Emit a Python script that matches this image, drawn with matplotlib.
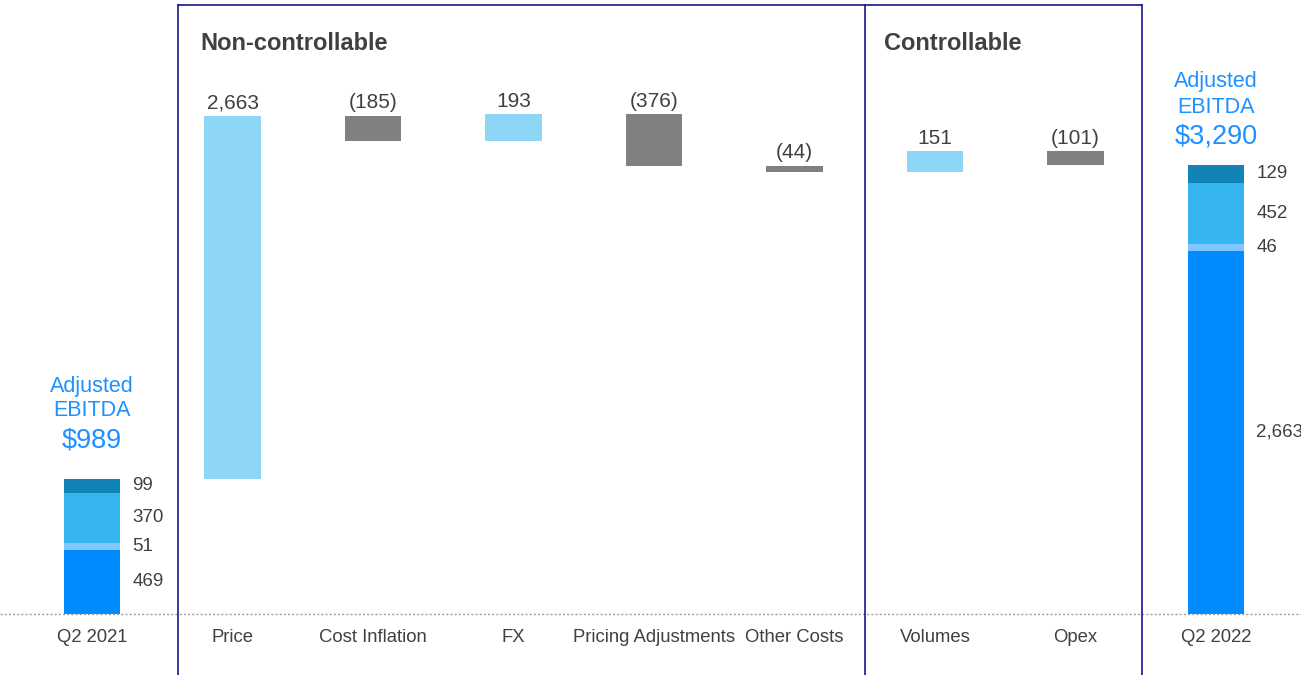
import matplotlib
matplotlib.use("Agg")
import matplotlib.pyplot as plt

plt.rcParams['font.family'] = ['Liberation Sans', 'DejaVu Sans']

# ---------------- data ----------------
categories = ["Q2 2021", "Price", "Cost Inflation", "FX", "Pricing Adjustments",
              "Other Costs", "Volumes", "Opex", "Q2 2022"]
deltas = [2663, -185, 193, -376, -44, 151, -101]
start_segments = [469, 51, 370, 99]
end_segments = [2663, 46, 452, 129]
start_total_label = "$989"
end_total_label = "$3,290"
header_label = ["Adjusted", "EBITDA"]
section_titles = ["Non-controllable", "Controllable"]

# ---------------- styles ----------------
seg_colors = ['#008CFF', '#80C6FF', '#35B6EE', '#1283B5']
pos_color = '#8DD6F5'
neg_color = '#808080'
txt_color = '#404040'
head_color = '#1E90FF'
box_color = '#16168C'
bar_w = 0.405
PT = 0.72  # points per pixel at 100 dpi

fig = plt.figure(figsize=(13.01, 6.75), dpi=100)
ax = fig.add_axes([0, 0, 1, 1])
px_x = 140.5
px_y = 0.1365
ax.set_xlim(-92 / px_x, (1301 - 92) / px_x)
ax.set_ylim(-61 / px_y, 614 / px_y)
ax.axis('off')


def fmt(v):
    return f"{v:,}" if v >= 0 else f"({abs(v):,})"


def stacked(x, segs):
    bottom = 0
    for val, col in zip(segs, seg_colors):
        ax.bar(x, val, bottom=bottom, width=bar_w, color=col, linewidth=0)
        ax.text(x + bar_w / 2 + 0.085, bottom + val / 2, f"{val:,}", ha='left',
                va='center', fontsize=13.5, color=txt_color)
        bottom += val
    return bottom


def header(x, top, total_label, offs):
    for s, o, fs in zip(header_label + [total_label], offs, [15.5, 15.5, 19.5]):
        ax.annotate(s, (x, top), xytext=(0, o * PT), textcoords='offset points',
                    ha='center', va='center', fontsize=fs, color=head_color)


total_start = stacked(0, start_segments)
header(0, total_start, start_total_label, [93, 69, 39])

level = total_start
for i, d in enumerate(deltas, start=1):
    lo = level if d >= 0 else level + d
    ax.bar(i, abs(d), bottom=lo, width=bar_w,
           color=pos_color if d >= 0 else neg_color, linewidth=0)
    top = lo + abs(d)
    ax.annotate(fmt(d), (i, top), xytext=(0, 13 * PT), textcoords='offset points',
                ha='center', va='center', fontsize=15, color=txt_color)
    level += d

n_last = len(categories) - 1
total_end = stacked(n_last, end_segments)
header(n_last, total_end, end_total_label, [83, 57, 28])

# category labels
for i, c in enumerate(categories):
    ax.text(i, -23 / px_y, c, ha='center', va='center', fontsize=13.3, color=txt_color)

# baseline dotted
ax.axhline(0, color='#A0A0A0', linestyle=(0, (1.5, 1.5)), linewidth=1)

# section boxes
x0, xm, x1 = (178 - 92) / px_x, (865 - 92) / px_x, (1142 - 92) / px_x
ytop = (614 - 5) / px_y
ybot = -61 / px_y
for xv in (x0, xm, x1):
    ax.plot([xv, xv], [ybot, ytop], color=box_color, linewidth=1.2)
ax.plot([x0, x1], [ytop, ytop], color=box_color, linewidth=1.2)

ax.text(x0 + 22 / px_x, (614 - 44) / px_y, section_titles[0], ha='left', va='center',
        fontsize=17, fontweight='bold', color=txt_color)
ax.text(xm + 19 / px_x, (614 - 44) / px_y, section_titles[1], ha='left', va='center',
        fontsize=17, fontweight='bold', color=txt_color)

fig.savefig("out.png", dpi=100)
